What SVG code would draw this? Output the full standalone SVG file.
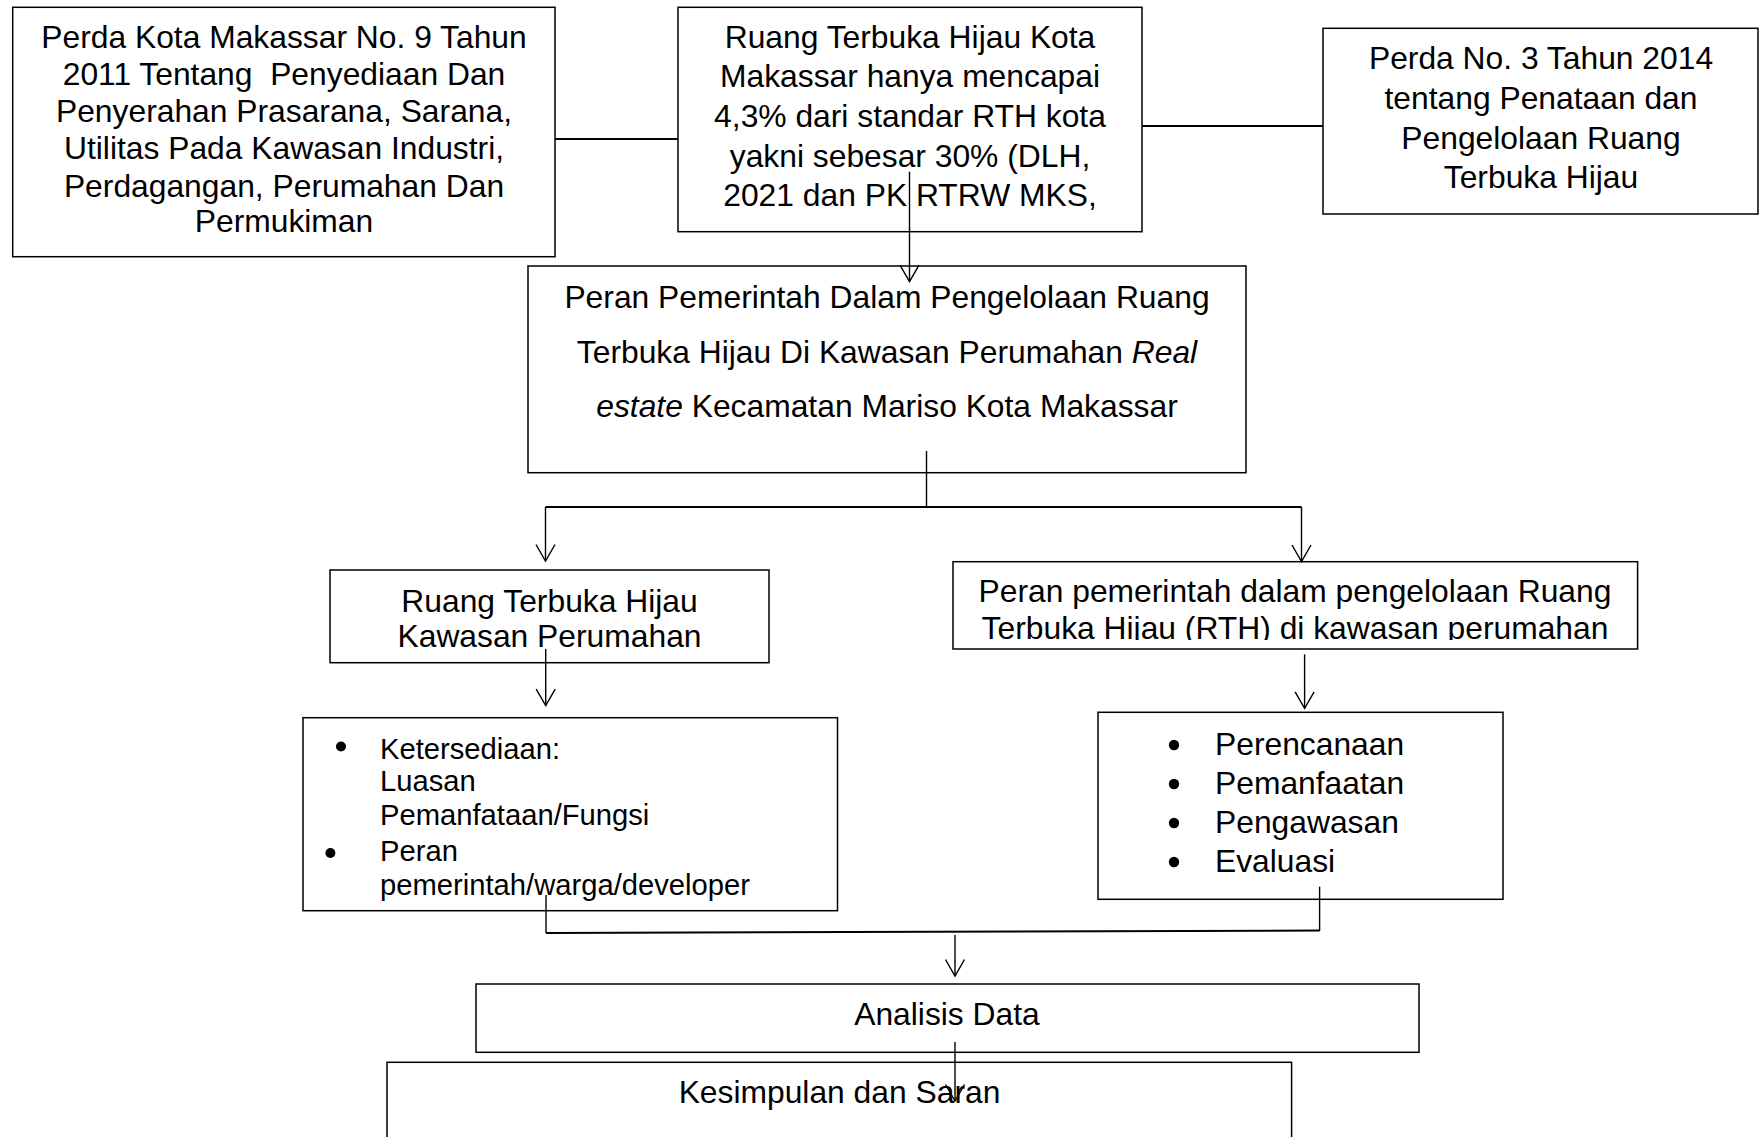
<svg xmlns="http://www.w3.org/2000/svg" width="1760" height="1137" viewBox="0 0 1760 1137">
<style>
.box{fill:#fff;stroke:#000;stroke-width:1.5}
.t{font-family:"Liberation Sans",Arial,sans-serif;font-size:31.8px;fill:#000}
.c{text-anchor:middle}
.s{font-size:29.2px}
.i{font-style:italic}
.ln{fill:none;stroke:#000;stroke-width:1.4}
.hl{fill:none;stroke:#000;stroke-width:2}
.ar{fill:none;stroke:#000;stroke-width:1.4;marker-end:url(#v)}
</style>
<defs>
<marker id="v" markerUnits="userSpaceOnUse" markerWidth="22" markerHeight="24" viewBox="-19 -12 22 24" refX="0" refY="0" orient="auto">
<path d="M-16.5,-9.5 L0,0 L-16.5,9.5" fill="none" stroke="#000" stroke-width="1.4"/>
</marker>
<clipPath id="clip7"><rect x="950" y="558" width="692" height="82"/></clipPath>
</defs>
<rect width="1760" height="1137" fill="#fff"/>

<g id="node-perda-9-2011">
<rect class="box" x="12.7" y="7.3" width="542.3" height="249.4"/>
<g class="t c">
<text x="284" y="47.7">Perda Kota Makassar No. 9 Tahun</text>
<text x="284" y="84.6">2011 Tentang&#160; Penyediaan Dan</text>
<text x="284" y="121.5">Penyerahan Prasarana, Sarana,</text>
<text x="284" y="159">Utilitas Pada Kawasan Industri,</text>
<text x="284" y="196.5">Perdagangan, Perumahan Dan</text>
<text x="284" y="232.2">Permukiman</text>
</g>
</g>

<g id="node-rth-makassar">
<rect class="box" x="678" y="7.3" width="464" height="224.4"/>
<g class="t c">
<text x="910" y="47.7">Ruang Terbuka Hijau Kota</text>
<text x="910" y="87.3">Makassar hanya mencapai</text>
<text x="910" y="127">4,3% dari standar RTH kota</text>
<text x="910" y="166.7">yakni sebesar 30% (DLH,</text>
<text x="910" y="205.7">2021 dan PK RTRW MKS,</text>
</g>
</g>

<g id="node-perda-3-2014">
<rect class="box" x="1323" y="28.3" width="435" height="185.7"/>
<g class="t c">
<text x="1541" y="69">Perda No. 3 Tahun 2014</text>
<text x="1541" y="108.5">tentang Penataan dan</text>
<text x="1541" y="148.5">Pengelolaan Ruang</text>
<text x="1541" y="187.5">Terbuka Hijau</text>
</g>
</g>

<g id="node-peran-utama">
<rect class="box" x="528" y="266" width="718" height="206.7"/>
<g class="t c">
<text x="887" y="308">Peran Pemerintah Dalam Pengelolaan Ruang</text>
<text x="887" y="362.5">Terbuka Hijau Di Kawasan Perumahan <tspan class="i">Real</tspan></text>
<text x="887" y="417"><tspan class="i">estate</tspan> Kecamatan Mariso Kota Makassar</text>
</g>
</g>

<g id="node-rth-kawasan">
<rect class="box" x="330" y="570" width="439" height="92.7"/>
<g class="t c">
<text x="549.5" y="611.5">Ruang Terbuka Hijau</text>
<text x="549.5" y="646.5">Kawasan Perumahan</text>
</g>
</g>

<g id="node-ketersediaan">
<rect class="box" x="303" y="717.7" width="534.5" height="193"/>
<circle cx="341" cy="746.5" r="5"/>
<circle cx="330.4" cy="853" r="5"/>
<g class="t s">
<text x="380" y="759">Ketersediaan:</text>
<text x="380" y="791">Luasan</text>
<text x="380" y="825">Pemanfataan/Fungsi</text>
<text x="380" y="861">Peran</text>
<text x="380" y="895">pemerintah/warga/developer</text>
</g>
</g>

<g id="node-peran-pengelolaan">
<rect class="box" x="953" y="561.7" width="684.6" height="87.3"/>
<g clip-path="url(#clip7)">
<g class="t c">
<text x="1295" y="602">Peran pemerintah dalam pengelolaan Ruang</text>
<text x="1295" y="639">Terbuka Hijau (RTH) di kawasan perumahan</text>
</g>
</g>
</g>

<g id="node-tahapan">
<rect class="box" x="1098" y="712.3" width="405" height="187"/>
<circle cx="1174" cy="745" r="5.2"/>
<circle cx="1174" cy="784" r="5.2"/>
<circle cx="1174" cy="823" r="5.2"/>
<circle cx="1174" cy="862" r="5.2"/>
<g class="t">
<text x="1215" y="755">Perencanaan</text>
<text x="1215" y="794">Pemanfaatan</text>
<text x="1215" y="833">Pengawasan</text>
<text x="1215" y="872">Evaluasi</text>
</g>
</g>

<g id="node-analisis">
<rect class="box" x="476" y="984" width="943" height="68.3"/>
<text class="t c" x="947" y="1025">Analisis Data</text>
</g>

<g id="node-kesimpulan">
<rect class="box" x="387" y="1062.3" width="904.6" height="90"/>
<text class="t c" x="839.5" y="1103">Kesimpulan dan Saran</text>
</g>

<g id="connectors">
<line class="hl" x1="555" y1="139" x2="678" y2="139"/>
<line class="hl" x1="1142" y1="126" x2="1323" y2="126"/>
<line class="ar" x1="909.5" y1="171.7" x2="909.5" y2="281.7"/>
<line class="ln" x1="926.5" y1="451" x2="926.5" y2="507"/>
<line class="hl" x1="545.5" y1="507" x2="1301.5" y2="507"/>
<line class="ar" x1="545.5" y1="507" x2="545.5" y2="561"/>
<line class="ar" x1="1301.5" y1="507" x2="1301.5" y2="561.5"/>
<line class="ar" x1="545.7" y1="649" x2="545.7" y2="705.7"/>
<line class="ar" x1="1304.6" y1="654.3" x2="1304.6" y2="708.3"/>
<line class="ln" x1="546" y1="895" x2="546" y2="933"/>
<line class="ln" x1="1319.6" y1="886.7" x2="1319.6" y2="931"/>
<line class="hl" x1="546" y1="933" x2="1319.6" y2="930.5"/>
<line class="ar" x1="955" y1="935" x2="955" y2="976"/>
<line class="ar" x1="955" y1="1042" x2="955" y2="1101"/>
</g>
</svg>
